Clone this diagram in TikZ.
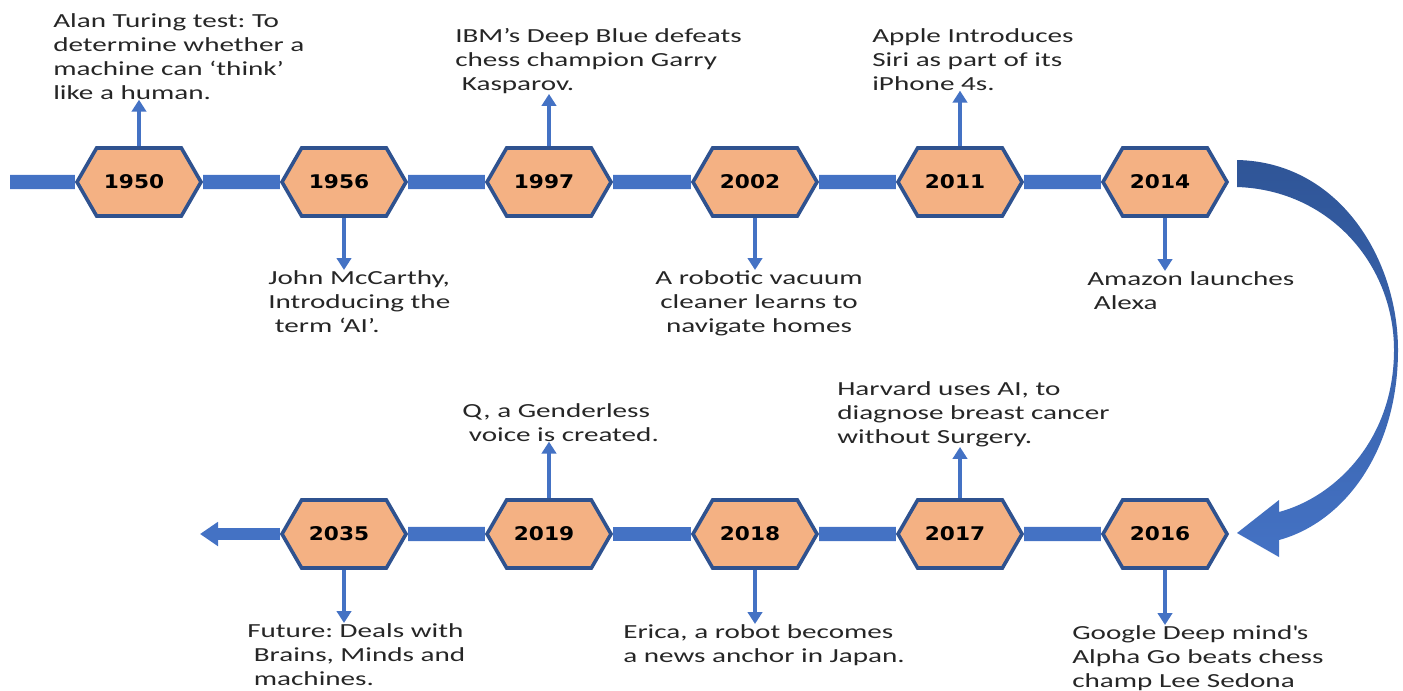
\documentclass[tikz,border=0pt]{standalone}
\usepackage{fontspec}
\setmainfont{Carlito}[FakeStretch=1.46]
\newfontfamily\yearfont{DejaVu Sans}[FakeStretch=1.15]
\usetikzlibrary{shapes.symbols,arrows.meta}
\frenchspacing

\definecolor{hexfill}{HTML}{F4B183}
\definecolor{hexline}{HTML}{2F528F}
\definecolor{barblue}{HTML}{4472C4}
\definecolor{darkblue}{HTML}{2F5597}
\definecolor{txt}{HTML}{262626}

\begin{document}
\begin{tikzpicture}[x=0.25mm, y=-0.25mm,
    hexa/.style={shape=signal, signal to=west and east, signal pointer angle=120,
        draw=hexline, line width=0.9mm, fill=hexfill, minimum width=31mm,
        minimum height=17mm, inner sep=0pt, execute at end node={\hspace{2.5mm}},
        font=\yearfont\bfseries\fontsize{13.4}{15}\selectfont},
    bar/.style={barblue, line width=3.6mm},
    pin/.style={barblue, line width=0.9mm, -{Triangle[length=3mm, width=3.6mm]}},
    note/.style={align=left, anchor=north west, inner sep=0pt, text=txt,
        font=\fontsize{14.2}{17.1}\selectfont}]
\useasboundingbox (0,0) rectangle (1403,690);

% first row, left to right
\coordinate (start) at (10,182);
\node[hexa] (y1950) at (139,182) {1950};
\node[hexa] (y1956) at (344,182) {1956};
\node[hexa] (y1997) at (549,182) {1997};
\node[hexa] (y2002) at (755,182) {2002};
\node[hexa] (y2011) at (960,182) {2011};
\node[hexa] (y2014) at (1165,182) {2014};
\draw[bar] (start) -- (y1950);
\draw[bar] (y1950) -- (y1956);
\draw[bar] (y1956) -- (y1997);
\draw[bar] (y1997) -- (y2002);
\draw[bar] (y2002) -- (y2011);
\draw[bar] (y2011) -- (y2014);

% second row, right to left
\coordinate (stop) at (200,534);
\node[hexa] (y2016) at (1165,534) {2016};
\node[hexa] (y2017) at (960,534) {2017};
\node[hexa] (y2018) at (755,534) {2018};
\node[hexa] (y2019) at (549,534) {2019};
\node[hexa] (y2035) at (344,534) {2035};
\draw[bar] (y2016) -- (y2017);
\draw[bar] (y2017) -- (y2018);
\draw[bar] (y2018) -- (y2019);
\draw[bar] (y2019) -- (y2035);
\draw[bar, line width=2.9mm, -{Triangle[length=4.5mm, width=5.8mm]}] (y2035) -- (stop);

% the turn from 2014 down to 2016
\shade[top color=darkblue, bottom color=barblue]
    (1237,160) .. controls (1340,162) and (1398,260) .. (1398,350)
    .. controls (1398,450) and (1345,522) .. (1279,540)
    -- (1279,557) -- (1237,533) -- (1279,500) -- (1279,512)
    .. controls (1335,497) and (1394,440) .. (1394,350)
    .. controls (1394,265) and (1330,190) .. (1237,187) -- cycle;

% events
\node[note] (t1950) at (53,13) {Alan Turing test: To\\determine whether a\\machine can ‘think’\\like a human.};
\node[note] (t1956) at (268,270) {John McCarthy,\\Introducing the\\\ term ‘AI’.};
\node[note] (t1997) at (455,28) {IBM’s Deep Blue defeats\\chess champion Garry\\\ Kasparov.};
\node[note, align=center, anchor=north] (t2002) at (759,270) {A robotic vacuum\\cleaner learns to\\navigate homes};
\node[note] (t2011) at (872,28) {Apple Introduces\\Siri as part of its\\iPhone 4s.};
\node[note] (t2014) at (1087,271) {Amazon launches\\\ Alexa};
\node[note] (t2016) at (1072,625) {Google Deep mind\textquotesingle s\\Alpha Go beats chess\\champ Lee Sedona};
\node[note] (t2017) at (837,381) {Harvard uses AI, to\\diagnose breast cancer\\without Surgery.};
\node[note] (t2018) at (623,624) {Erica, a robot becomes\\a news anchor in Japan.};
\node[note] (t2019) at (462,403) {Q, a Genderless\\\ voice is created.};
\node[note] (t2035) at (247,623) {Future: Deals with\\\ Brains, Minds and\\\ machines.};

\draw[pin] (y1950.north) -- (y1950.north |- t1950.south);
\draw[pin] (y1956.south) -- (y1956.south |- t1956.north);
\draw[pin] (y1997.north) -- (y1997.north |- t1997.south);
\draw[pin] (y2002.south) -- (y2002.south |- t2002.north);
\draw[pin] (y2011.north) -- (y2011.north |- t2011.south);
\draw[pin] (y2014.south) -- (y2014.south |- t2014.north);
\draw[pin] (y2016.south) -- (y2016.south |- t2016.north);
\draw[pin] (y2017.north) -- (y2017.north |- t2017.south);
\draw[pin] (y2018.south) -- (y2018.south |- t2018.north);
\draw[pin] (y2019.north) -- (y2019.north |- t2019.south);
\draw[pin] (y2035.south) -- (y2035.south |- t2035.north);
\end{tikzpicture}
\end{document}
